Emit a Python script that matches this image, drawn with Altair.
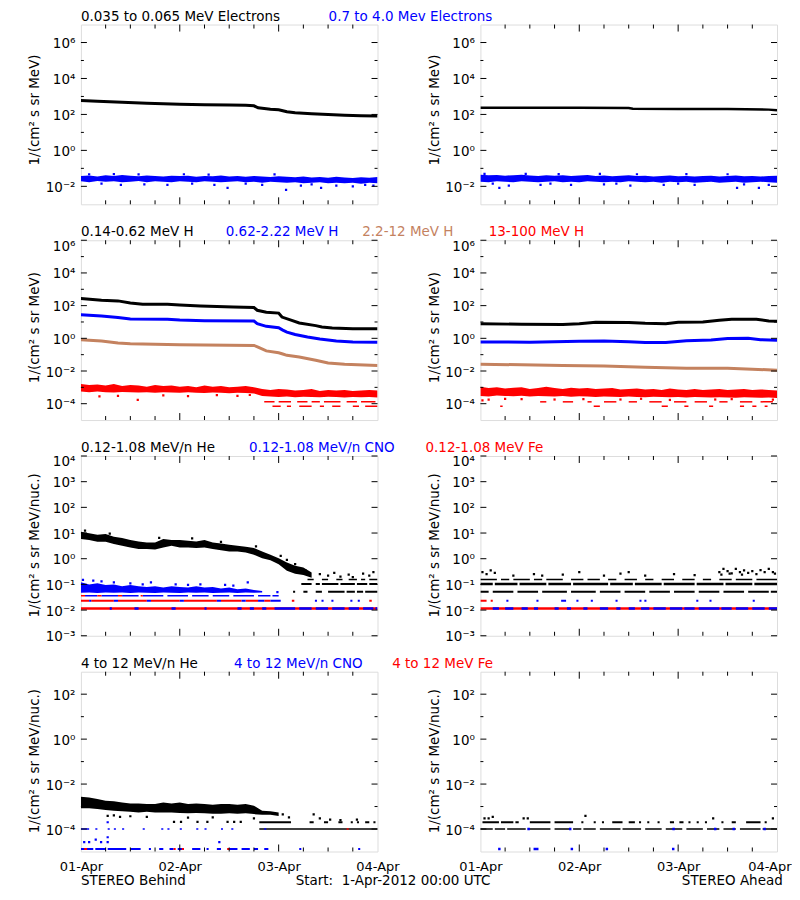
import altair as alt
import pandas as pd

FONT = "DejaVu Sans"
FS = 13.5
FSX = 13
BLACK, BLUE, RED, BROWN = "#000000", "#0000ff", "#ff0000", "#c4825f"
W, H = 297, 180

# ---------------- data: hours after 2012-04-01 00:00 UTC ----------------
DAY_HOURS = [0, 24, 48, 72]
DAY_LABELS = ["01-Apr", "02-Apr", "03-Apr", "04-Apr"]
MINOR_HOURS = [6, 12, 18, 30, 36, 42, 54, 60, 66]
G2 = list(range(0, 73, 2))

# Row 1 - electrons
E35_B_H = [0, 4, 10, 16, 24, 30, 36, 40, 42, 43, 44.5, 46, 48, 49, 50, 52, 56, 60, 64, 68, 72]
E35_B_V = [600, 540, 480, 420, 370, 350, 330, 320, 300, 235, 215, 195, 180, 160, 140, 125, 110, 98, 90, 85, 82]
E35_A_H = [0, 12, 24, 36, 37, 48, 60, 70, 72]
E35_A_V = [235, 235, 232, 228, 205, 200, 198, 185, 170]
E7_B_TOP = [0.037, 0.040, 0.035, 0.041, 0.038, 0.043, 0.039, 0.036, 0.040, 0.038, 0.035, 0.039, 0.037,
            0.039, 0.034, 0.038, 0.036, 0.040, 0.035, 0.037, 0.034, 0.038, 0.035, 0.033, 0.036, 0.034,
            0.032, 0.035, 0.031, 0.033, 0.030, 0.034, 0.031, 0.029, 0.032, 0.030, 0.033]
E7_B_BOT = [0.019, 0.017, 0.020, 0.018, 0.019, 0.017, 0.018, 0.020, 0.017, 0.019, 0.018, 0.017, 0.019,
            0.018, 0.017, 0.019, 0.018, 0.017, 0.018, 0.019, 0.017, 0.018, 0.016, 0.018, 0.017, 0.016,
            0.017, 0.015, 0.016, 0.017, 0.015, 0.016, 0.015, 0.016, 0.014, 0.016, 0.015]
E7_B_OUT = [(9.7, 0.012), (15.4, 0.013), (21, 0.012), (32.4, 0.012), (35.6, 0.0083), (44, 0.012),
            (49.8, 0.0063), (53.4, 0.011), (58.3, 0.0083), (62, 0.011), (66, 0.010), (71, 0.011),
            (2, 0.047), (8, 0.048), (14, 0.046), (25, 0.047), (31, 0.045), (47, 0.046), (5, 0.014),
            (27, 0.014), (40, 0.014), (56, 0.013), (69, 0.012)]
E7_A_TOP = [0.044, 0.041, 0.043, 0.039, 0.042, 0.044, 0.040, 0.038, 0.042, 0.039, 0.041, 0.037, 0.040,
            0.043, 0.038, 0.040, 0.036, 0.039, 0.041, 0.037, 0.039, 0.035, 0.038, 0.040, 0.036, 0.038,
            0.035, 0.037, 0.039, 0.035, 0.037, 0.040, 0.036, 0.038, 0.035, 0.037, 0.039]
E7_A_BOT = [0.018, 0.017, 0.019, 0.018, 0.017, 0.019, 0.018, 0.017, 0.018, 0.019, 0.017, 0.018, 0.017,
            0.019, 0.018, 0.017, 0.018, 0.017, 0.019, 0.018, 0.017, 0.018, 0.016, 0.018, 0.017, 0.018,
            0.016, 0.017, 0.018, 0.016, 0.017, 0.018, 0.016, 0.017, 0.018, 0.017, 0.016]
E7_A_OUT = [(4.6, 0.0083), (6.9, 0.011), (14.6, 0.012), (22, 0.012), (30, 0.013), (36.4, 0.011),
            (44.5, 0.012), (52, 0.012), (62.3, 0.0083), (67.6, 0.0083), (70, 0.012),
            (1, 0.05), (11, 0.049), (19, 0.048), (29, 0.05), (38, 0.047), (50, 0.048), (60, 0.047),
            (3, 0.014), (17, 0.014), (33, 0.014), (48, 0.014), (64, 0.013)]

# Row 2 - protons
H014_B_H = [0, 5, 9, 12, 15, 21, 24, 29, 37, 42, 42.8, 45, 48, 48.8, 51, 53, 57, 58.5, 61, 66, 72]
H014_B_V = [270, 215, 195, 145, 120, 120, 110, 95, 83, 76, 52, 39, 35, 20, 13, 8.7, 6, 5, 4.3, 3.9, 3.8]
H062_B_H = [0, 5, 9, 12, 21, 24, 30, 42, 42.8, 45, 48, 49, 50, 52, 55, 58, 62, 66, 72]
H062_B_V = [28, 23, 19, 15, 14.5, 13, 12, 11.5, 8, 5.4, 4.5, 3.2, 2.4, 1.7, 1.2, 0.9, 0.69, 0.6, 0.57]
H22_B_H = [0, 5, 9, 12, 24, 42, 43, 45, 48, 49, 50, 53, 57, 60, 64, 72]
H22_B_V = [0.83, 0.69, 0.52, 0.47, 0.41, 0.37, 0.29, 0.17, 0.13, 0.11, 0.091, 0.072, 0.045, 0.031, 0.026, 0.022]
H13_B_TOP = [1.6e-3, 1.4e-3, 1.5e-3, 1.3e-3, 1.6e-3, 1.2e-3, 1.4e-3, 1.3e-3, 1.1e-3, 1.4e-3, 1.2e-3,
             1.3e-3, 1.1e-3, 1.2e-3, 1.0e-3, 1.3e-3, 1.1e-3, 1.2e-3, 1.0e-3, 1.1e-3, 1.2e-3, 1.0e-3,
             8e-4, 7e-4, 8e-4, 7.5e-4, 6.5e-4, 7e-4, 8e-4, 6e-4, 7e-4, 6.5e-4, 7e-4, 6e-4, 6.5e-4, 7e-4, 6.5e-4]
H13_B_BOT = [5.5e-4, 5e-4, 5.5e-4, 5e-4, 4.8e-4, 5.2e-4, 5e-4, 4.8e-4, 5e-4, 4.6e-4, 5e-4, 4.8e-4,
             4.6e-4, 5e-4, 4.7e-4, 4.5e-4, 4.8e-4, 4.6e-4, 4.4e-4, 4.6e-4, 4.5e-4, 4.2e-4, 3e-4, 2.8e-4,
             2.6e-4, 2.8e-4, 2.5e-4, 2.7e-4, 2.6e-4, 2.5e-4, 2.7e-4, 2.6e-4, 2.4e-4, 2.6e-4, 2.5e-4, 2.6e-4, 2.4e-4]
H13_B_SEG_A = [(44.5, 47), (48, 51), (52.5, 55), (56, 58), (59, 63), (64.5, 67), (68, 71.5)]
H13_B_SEG_B = [(46.5, 48.5), (50, 51), (53, 56), (58, 59), (61, 63), (66, 67.5), (69, 72)]
H13_B_OUT = [(4.5, 2.8e-4), (9, 3e-4), (13.8, 1.7e-4), (20, 3.2e-4), (26, 2.9e-4), (33, 3.3e-4),
             (38, 3e-4), (41, 3.4e-4)]
H014_A_H = [0, 10, 20, 24, 28, 36, 40, 45, 48, 54, 58, 61, 67, 70, 72]
H014_A_V = [7.9, 7.2, 7.0, 7.9, 9.5, 9.3, 8.3, 7.9, 9.5, 10, 12.6, 14.5, 14.5, 11.5, 11]
H062_A_H = [0, 12, 24, 30, 36, 40, 45, 50, 56, 60, 65, 68, 72]
H062_A_V = [0.6, 0.58, 0.66, 0.68, 0.62, 0.56, 0.56, 0.7, 0.78, 0.98, 1.0, 0.82, 0.75]
H22_A_H = [0, 10, 20, 30, 40, 45, 50, 60, 66, 72]
H22_A_V = [0.026, 0.024, 0.022, 0.02, 0.017, 0.016, 0.015, 0.0145, 0.013, 0.011]
H13_A_TOP = [1.1e-3, 9e-4, 1e-3, 8.5e-4, 9.5e-4, 1e-3, 8e-4, 9e-4, 1.1e-3, 9e-4, 8e-4, 9.5e-4, 8.5e-4,
             9e-4, 8e-4, 8.5e-4, 9e-4, 7.5e-4, 8e-4, 8.5e-4, 7.5e-4, 8e-4, 7e-4, 8.5e-4, 7.5e-4, 7e-4,
             8e-4, 7e-4, 7.5e-4, 8e-4, 7e-4, 7.5e-4, 8e-4, 7e-4, 7.5e-4, 7e-4, 6.5e-4]
H13_A_BOT = [3e-4, 2.8e-4, 3.2e-4, 3e-4, 2.9e-4, 3.1e-4, 2.8e-4, 3e-4, 2.9e-4, 2.8e-4, 3e-4, 2.7e-4,
             2.9e-4, 2.8e-4, 2.6e-4, 2.8e-4, 2.7e-4, 2.6e-4, 2.8e-4, 2.6e-4, 2.5e-4, 2.7e-4, 2.6e-4,
             2.5e-4, 2.6e-4, 2.4e-4, 2.6e-4, 2.5e-4, 2.4e-4, 2.5e-4, 2.4e-4, 2.3e-4, 2.5e-4, 2.4e-4,
             2.3e-4, 2.4e-4, 2.2e-4]
H13_A_SEG_A = [(14.5, 16), (20, 22.5), (26, 27), (30, 33), (36, 38), (41, 44), (47, 50), (52, 55),
               (58, 60), (63, 66), (68, 71)]
H13_A_SEG_B = [(4.8, 5.4), (27.5, 29), (44, 45.5), (49.5, 50.5), (55.5, 56.5), (63, 64), (66, 67), (69, 69.7)]
H13_A_OUT = [(0.5, 1.6e-4), (2, 1.8e-4), (6, 2e-4), (10, 1.9e-4), (18, 1.8e-4), (25, 1.9e-4),
             (34, 1.8e-4), (39, 2e-4), (46, 1.7e-4), (57, 1.8e-4), (61, 1.9e-4), (71, 1.8e-4)]

# Row 3 - 0.12-1.08 MeV/n heavy ions
HE_B_H = list(range(0, 57, 2))
HE_B_TOP = [11.3, 9.7, 8.6, 9.1, 7.2, 6.4, 5.3, 4.7, 4.3, 4.3, 5.8, 5.3, 5.3, 5.0, 4.7, 5.3, 4.3, 3.9,
            3.5, 3.2, 2.9, 2.6, 1.9, 1.42, 1.05, 0.71, 0.53, 0.45, 0.29]
HE_B_BOT = [5.9, 5.3, 4.6, 4.6, 3.7, 3.2, 2.75, 2.37, 2.37, 2.3, 2.75, 3.2, 2.75, 2.75, 2.6, 2.75, 2.37,
            2.16, 1.92, 1.92, 1.76, 1.42, 1.05, 0.88, 0.61, 0.34, 0.26, 0.23, 0.18]
HE_B_OUT = [(1, 12.5), (7, 9.5), (19, 6.5), (27, 6.2), (34, 4.5), (42.5, 3), (48.5, 1.3), (50, 0.9),
            (52, 0.62), (54.5, 0.35), (58, 0.25), (60, 0.22), (61.5, 0.28), (63, 0.2), (65, 0.24),
            (66, 0.19), (68.5, 0.26), (70, 0.22), (71, 0.3)]
HE_B_L155 = [(55, 56.5), (58.5, 60), (62, 63.5), (65, 67), (68, 69), (70, 72)]
HE_B_L104 = [(53.5, 56), (57, 58), (58.5, 62.5), (63, 66.5), (67, 69.5), (70, 72)]
HE_B_L052 = [(51.5, 52), (54, 55), (57, 58.5), (60, 64), (64.5, 66.5), (67, 68.5), (69, 72)]
CNO_B_H = list(range(0, 45, 2))
CNO_B_TOP = [0.12, 0.10, 0.11, 0.095, 0.10, 0.085, 0.095, 0.085, 0.08, 0.085, 0.075, 0.085, 0.08, 0.075,
             0.085, 0.075, 0.08, 0.07, 0.075, 0.065, 0.07, 0.06, 0.055]
CNO_B_BOT = [0.047, 0.048, 0.046, 0.048, 0.047, 0.048, 0.046, 0.048, 0.047, 0.046, 0.048, 0.047,
             0.046, 0.048, 0.047, 0.048, 0.046, 0.047, 0.048, 0.046, 0.048, 0.047, 0.048]
CNO_B_OUT = [(0.5, 0.15), (3, 0.14), (8, 0.12), (12, 0.11), (17, 0.12), (23, 0.1), (29, 0.1),
             (35, 0.095), (40.5, 0.12), (47.7, 0.05), (5, 0.13), (15, 0.1), (26, 0.095), (37, 0.09)]
CNO_B_L036 = [(1, 4), (5, 9), (10, 14), (15, 20), (21, 26), (27, 31), (32, 36), (37, 42), (43, 46), (46.5, 48)]
FE_B_L036 = [(0, 1), (4, 5), (9, 10), (14.5, 15)]
FE_B_L023 = [(0, 2), (2.5, 8), (9, 16), (17, 24), (25, 33), (34, 39), (40, 43), (44.5, 46),
             (51.2, 51.8), (70, 70.6)]
CNO_B_L023 = [(2, 2.5), (8, 9), (16, 17), (24, 25), (33, 34), (39, 40), (43, 44.5), (46, 48.5),
              (56.8, 57.3), (58.4, 58.9), (60.8, 61.3), (65.4, 65.9), (67.2, 67.7)]
FE_B_L012 = [(0, 72)]
CNO_B_L012 = [(7, 7.5), (13, 14), (22, 23), (30, 30.5), (38, 39), (41, 42), (44, 45), (47, 52),
              (53, 56), (57, 60), (61, 64), (65, 67.5), (68.5, 71), (71.5, 72)]
HE_A_L104 = [(0, 3), (3.5, 9), (9.5, 16), (16.5, 22), (22.5, 31), (31.5, 37), (37.5, 44), (44.5, 52),
             (52.5, 59), (59.5, 66), (66.5, 72)]
HE_A_L052 = [(0, 2), (3, 8), (9, 14), (15, 21), (22, 28), (29, 34), (35, 40), (41, 46), (47, 52),
             (53, 58), (59, 64), (65, 70), (70.5, 72)]
HE_A_L155 = [(0, 4), (5, 7), (8, 12), (13, 15), (16, 20), (22, 25), (26, 29), (31, 33), (35, 38),
             (40, 42), (44, 47), (49, 52), (54, 56), (58, 61), (62, 66), (67, 72)]
HE_A_OUT = [(0.5, 0.3), (1.5, 0.25), (2.5, 0.35), (3.5, 0.28), (8, 0.22), (13, 0.25), (15, 0.22),
            (20, 0.24), (24, 0.3), (30, 0.22), (34, 0.26), (36, 0.3), (40, 0.22), (47, 0.25),
            (52, 0.23), (58, 0.3), (58.5, 0.24), (59, 0.4), (60, 0.33), (60.5, 0.26), (61, 0.27),
            (62, 0.4), (63, 0.3), (63.5, 0.24), (64, 0.35), (65, 0.28), (66, 0.33), (67, 0.25),
            (68, 0.36), (69, 0.3), (70, 0.4), (71, 0.3), (71.5, 0.26)]
CNO_A_L023 = [(6.3, 6.8), (13.6, 14.1), (19.6, 20.8), (23.3, 23.8), (26.8, 27.3), (32.8, 33.3),
              (38.6, 39.1), (39.8, 40.3), (52.4, 52.9), (55.6, 56.1), (66.1, 66.6)]
FE_A_L023 = [(0, 1.5), (2.5, 3)]
FE_A_L012 = [(0, 72)]
CNO_A_L012 = [(3, 4.5), (6, 8), (10, 11.5), (13, 14), (18, 19), (21, 22), (25, 26), (29, 31), (33, 34),
              (36, 37.5), (39, 41), (42, 45), (46, 49), (49.5, 52), (53, 58), (58.5, 61), (62, 65),
              (66, 69), (70, 72)]

# Row 4 - 4 to 12 MeV/n heavy ions
HE4_B_H = list(range(0, 49, 2))
HE4_B_TOP = [2.74e-3, 2.55e-3, 2.15e-3, 1.82e-3, 1.7e-3, 1.53e-3, 1.38e-3, 1.38e-3, 1.29e-3, 1.29e-3,
             1.53e-3, 1.38e-3, 1.53e-3, 1.29e-3, 1.38e-3, 1.29e-3, 1.2e-3, 1.29e-3, 1.29e-3, 1.2e-3,
             1.29e-3, 1.09e-3, 6.5e-4, 6.1e-4, 5.5e-4]
HE4_B_BOT = [8.3e-4, 8.3e-4, 7.7e-4, 7e-4, 6.5e-4, 6.1e-4, 5.8e-4, 5.5e-4, 5.8e-4, 5.5e-4, 5.5e-4,
             5.5e-4, 5.2e-4, 5e-4, 5.2e-4, 5e-4, 4.8e-4, 4.8e-4, 5e-4, 4.8e-4, 5e-4, 4.6e-4, 4.3e-4,
             4.3e-4, 3.8e-4]
HE4_B_OUT = [(6.5, 3.8e-4), (8, 4e-4), (9.5, 3.5e-4), (12, 3.7e-4), (16, 3.5e-4), (22.6, 2.1e-4),
             (24.3, 2.1e-4), (26, 3.2e-4), (28.3, 2.1e-4), (30.7, 2.1e-4), (32, 3.3e-4), (35.6, 2.1e-4),
             (37.2, 2.1e-4), (38.8, 2.1e-4), (42, 3e-4), (49, 4.5e-4), (50.5, 3.3e-4), (56.5, 4.5e-4),
             (58, 3e-4), (60.5, 2.6e-4), (63, 2.5e-4), (67, 2.6e-4)]
HE4_B_L2 = [(43.3, 51), (55.5, 56.5), (59, 60), (62.5, 63.5), (65.5, 66), (67, 67.5), (69, 70), (71, 71.5)]
HE4_B_L1 = [(43.3, 72)]
CNO4_B_L1 = [(0, 2), (3.5, 4), (6.5, 7), (8, 8.5), (10, 10.5), (15, 15.5), (19.5, 20), (21, 21.5),
             (24, 24.5), (28, 28.5), (30, 30.5), (34, 34.5), (36.5, 37), (44.5, 45)]
CNO4_B_L013 = [(0, 3), (3.5, 6), (6.5, 11), (12, 14.5), (16.5, 17), (19, 20), (21.5, 22.5), (23.5, 25),
               (27, 29), (30.5, 31), (33, 34), (36, 38), (39, 41), (42, 43), (44.5, 45.5), (53, 53.5),
               (67.3, 67.8)]
CNO4_B_OUT = [(0.8, 2.6e-5), (2, 2.6e-5), (3.6, 3.4e-5), (4.9, 2.6e-5), (6.5, 2.6e-5), (6.5, 4.3e-5),
              (33.6, 2.6e-5), (6.5, 2e-4)]
FE4_B_L013 = [(0.8, 1.5), (22.5, 23), (24.5, 25), (35.5, 36)]
FE4_B_L1 = [(64.5, 65)]
HE4_A_L1 = [(0, 3), (3.5, 6), (6.5, 11), (11.5, 17), (18, 22), (22.5, 24.5), (25, 28), (29, 34),
            (34.5, 39), (40, 44), (45, 49), (50, 54), (55, 58), (59, 62), (63, 68), (68.5, 72)]
HE4_A_L2 = [(0.5, 4.5), (5, 8), (8.5, 9.3), (12, 17), (18, 22.5), (24.5, 25), (27.5, 28), (29.5, 30),
            (32, 34.5), (36, 37.5), (38.5, 39), (40.5, 41), (43, 43.5), (46, 47), (48.3, 49.3),
            (50.5, 51), (52.5, 53), (54.5, 55), (58.5, 59), (61, 62), (64.5, 68), (69, 69.5)]
HE4_A_OUT = [(1, 3e-4), (2, 3e-4), (3, 3.5e-4), (10.5, 3e-4), (11.5, 3e-4), (25.5, 3.8e-4),
             (56.5, 3e-4), (71, 3e-4)]
CNO4_A_OUT = [(4.6, 1.3e-5), (13.2, 1.3e-5), (13.8, 1.3e-5), (22.2, 1.3e-5), (30.7, 1.3e-5),
              (46.8, 1.3e-5), (11.7, 1e-4), (21.8, 1e-4), (46.9, 1e-4), (57, 1e-4), (61.5, 1e-4), (69, 1e-4)]

# ---------------- text ----------------
TITLE_E = "1/(cm² s sr MeV)"
TITLE_N = "1/(cm² s sr MeV/nuc.)"
ROW1_TXT = [(0, "0.035 to 0.065 MeV Electrons", BLACK), (248, "0.7 to 4.0 Mev Electrons", BLUE)]
ROW2_TXT = [(0, "0.14-0.62 MeV H", BLACK), (145, "0.62-2.22 MeV H", BLUE),
            (281.7, "2.2-12 MeV H", BROWN), (408.3, "13-100 MeV H", RED)]
ROW3_TXT = [(0, "0.12-1.08 MeV/n He", BLACK), (168.3, "0.12-1.08 MeV/n CNO", BLUE),
            (345, "0.12-1.08 MeV Fe", RED)]
ROW4_TXT = [(0, "4 to 12 MeV/n He", BLACK), (153.3, "4 to 12 MeV/n CNO", BLUE),
            (311.7, "4 to 12 MeV Fe", RED)]
FOOT_L = [(0, "STEREO Behind", BLACK), (215, "Start:\u00a0\u00a01-Apr-2012 00:00 UTC", BLACK)]
FOOT_R = [(201.7, "STEREO Ahead", BLACK)]
TITLE_Y = -4
FOOT_Y = H + 34

SUP = {"-": "⁻", "0": "⁰", "1": "¹", "2": "²", "3": "³", "4": "⁴", "5": "⁵", "6": "⁶", "7": "⁷", "8": "⁸", "9": "⁹"}
ONE = pd.DataFrame({"a": [0]})


def sup(e):
    return "10" + "".join(SUP[c] for c in str(e))


def y_axis(dom, major, title, ty):
    expr = "".join(f"abs(log(datum.value)/LN10 - ({e})) < 0.01 ? '{sup(e)}' : " for e in major) + "''"
    return alt.Axis(values=[10.0 ** e for e in major], labelExpr=expr, ticks=False, domain=False,
                    grid=False, labelFont=FONT, labelFontSize=FS, labelColor="black", labelPadding=6,
                    labelOverlap=False, labelFlush=False, labelBaseline="middle",
                    labelOffset=alt.condition(f"datum.value > {dom[1] * 0.999}", alt.value(6), alt.value(1)),
                    title=title, titleFont=FONT, titleFontSize=FS, titleFontWeight="normal",
                    titleColor="black", titleAngle=270, titleX=-46, titleY=ty,
                    titleAlign="center", titleBaseline="middle")


DAY_EXPR = "".join(f"datum.value == {h} ? '{l}' : " for h, l in zip(DAY_HOURS, DAY_LABELS)) + "''"


def x_axis(last_inside=False):
    kw = dict(values=DAY_HOURS, labelExpr=DAY_EXPR, ticks=False, domain=False, grid=False,
              labelFont=FONT, labelFontSize=FSX, labelColor="black", labelPadding=9,
              labelFlush=False, labelOverlap=False, title=None)
    if last_inside:
        # keep the page from overflowing: the last label hugs the right page edge
        kw["labelAlign"] = alt.condition("datum.value == 72", alt.value("right"), alt.value("center"))
        kw["labelOffset"] = alt.condition("datum.value == 72", alt.value(14), alt.value(0))
    return alt.Axis(**kw)


def pts(lst):
    return pd.DataFrame({"h": [p[0] for p in lst], "v": [p[1] for p in lst]})


def segs(lst, level):
    return pd.DataFrame({"h": [s[0] for s in lst], "h2": [s[1] for s in lst], "v": [level] * len(lst)})


def panel(dom, major, minor, title, ty, lines=(), bands=(), levels=(), dots=(), texts=(),
          xaxis=None, anchor=False):
    X = alt.X("h:Q", scale=alt.Scale(domain=[0, 72], nice=False, zero=False), axis=xaxis)
    Y = alt.Y("v:Q", scale=alt.Scale(type="log", domain=dom, nice=False), axis=y_axis(dom, major, title, ty))
    layers = []
    for hs, lo, hi, col, op in bands:
        df = pd.DataFrame({"h": hs, "v": lo, "v2": hi})
        layers.append(alt.Chart(df).mark_area(color=col, opacity=op, clip=True)
                      .encode(x=X, y=Y, y2="v2"))
    for hs, vs, col, sw in lines:
        df = pd.DataFrame({"h": hs, "v": vs})
        layers.append(alt.Chart(df).mark_line(color=col, strokeWidth=sw, clip=True).encode(x=X, y=Y))
    for lst, level, col, sw in levels:
        layers.append(alt.Chart(segs(lst, level)).mark_rule(color=col, strokeWidth=sw, clip=True)
                      .encode(x=X, x2="h2", y=Y))
    for lst, col, size in dots:
        layers.append(alt.Chart(pts(lst)).mark_square(color=col, size=size, opacity=1, clip=True)
                      .encode(x=X, y=Y))
    # inward ticks on all four sides
    maj = pd.DataFrame({"v": [10.0 ** e for e in major]})
    layers.append(alt.Chart(maj).mark_rule(color="black", strokeWidth=1).encode(y=Y, x=alt.value(0), x2=alt.value(6)))
    layers.append(alt.Chart(maj).mark_rule(color="black", strokeWidth=1).encode(y=Y, x=alt.value(W - 6), x2=alt.value(W)))
    if minor:
        mnr = pd.DataFrame({"v": [10.0 ** e for e in minor]})
        layers.append(alt.Chart(mnr).mark_rule(color="black", strokeWidth=1).encode(y=Y, x=alt.value(0), x2=alt.value(3)))
        layers.append(alt.Chart(mnr).mark_rule(color="black", strokeWidth=1).encode(y=Y, x=alt.value(W - 3), x2=alt.value(W)))
    dmaj = pd.DataFrame({"h": [24, 48]})
    dmin = pd.DataFrame({"h": MINOR_HOURS})
    layers.append(alt.Chart(dmaj).mark_rule(color="black", strokeWidth=1).encode(x=X, y=alt.value(H), y2=alt.value(H - 7)))
    layers.append(alt.Chart(dmaj).mark_rule(color="black", strokeWidth=1).encode(x=X, y=alt.value(0), y2=alt.value(7)))
    layers.append(alt.Chart(dmin).mark_rule(color="black", strokeWidth=1).encode(x=X, y=alt.value(H), y2=alt.value(H - 4)))
    layers.append(alt.Chart(dmin).mark_rule(color="black", strokeWidth=1).encode(x=X, y=alt.value(0), y2=alt.value(4)))
    for px, py, t, col in texts:
        layers.append(alt.Chart(ONE).mark_text(align="left", baseline="alphabetic", font=FONT, fontSize=FS)
                      .encode(x=alt.value(px), y=alt.value(py), text=alt.value(t), color=alt.value(col)))
    if anchor:
        # invisible left anchor so the left plot edge sits 72 px right of the page margin
        layers.append(alt.Chart(ONE).mark_text(align="left", baseline="alphabetic", font=FONT, fontSize=FS)
                      .encode(x=alt.value(-72), y=alt.value(TITLE_Y), text=alt.value("."), color=alt.value("white")))
    return alt.layer(*layers).properties(width=W, height=H)


def row_texts(lst):
    return [(px, TITLE_Y, t, c) for px, t, c in lst]


D1, M1, m1 = [1e-3, 1e7], [6, 4, 2, 0, -2], [5, 3, 1, -1]
D2, M2, m2 = [1e-5, 1e6], [6, 4, 2, 0, -2, -4], [5, 3, 1, -1, -3]
D3, M3, m3 = [1e-3, 1e4], [4, 3, 2, 1, 0, -1, -2, -3], []
D4, M4, m4 = [1e-5, 1e3], [2, 0, -2, -4], [1, -1, -3]

p1l = panel(D1, M1, m1, TITLE_E, 85,
            bands=[(G2, E7_B_BOT, E7_B_TOP, BLUE, 1)],
            lines=[(E35_B_H, E35_B_V, BLACK, 3)],
            dots=[(E7_B_OUT, BLUE, 5)],
            texts=row_texts(ROW1_TXT), anchor=True)
p1r = panel(D1, M1, m1, TITLE_E, 85,
            bands=[(G2, E7_A_BOT, E7_A_TOP, BLUE, 1)],
            lines=[(E35_A_H, E35_A_V, BLACK, 2.5)],
            dots=[(E7_A_OUT, BLUE, 5)])
p2l = panel(D2, M2, m2, TITLE_E, 87,
            bands=[(G2, H13_B_BOT, H13_B_TOP, RED, 1)],
            lines=[(H014_B_H, H014_B_V, BLACK, 3), (H062_B_H, H062_B_V, BLUE, 3), (H22_B_H, H22_B_V, BROWN, 3)],
            levels=[(H13_B_SEG_A, 1.3e-4, RED, 1.5), (H13_B_SEG_B, 7e-5, RED, 1.5)],
            dots=[(H13_B_OUT, RED, 5)],
            texts=row_texts(ROW2_TXT))
p2r = panel(D2, M2, m2, TITLE_E, 87,
            bands=[(G2, H13_A_BOT, H13_A_TOP, RED, 1)],
            lines=[(H014_A_H, H014_A_V, BLACK, 3), (H062_A_H, H062_A_V, BLUE, 3), (H22_A_H, H22_A_V, BROWN, 3)],
            levels=[(H13_A_SEG_A, 1.3e-4, RED, 1.5), (H13_A_SEG_B, 7e-5, RED, 1.5)],
            dots=[(H13_A_OUT, RED, 5)])
p3l = panel(D3, M3, m3, TITLE_N, 89,
            bands=[(HE_B_H, HE_B_BOT, HE_B_TOP, BLACK, 1), (CNO_B_H, CNO_B_BOT, CNO_B_TOP, BLUE, 1)],
            levels=[(HE_B_L155, 0.155, BLACK, 1.5), (HE_B_L104, 0.104, BLACK, 2), (HE_B_L052, 0.052, BLACK, 2),
                    (CNO_B_L036, 0.036, BLUE, 1.5), (FE_B_L036, 0.036, RED, 1.5),
                    (FE_B_L023, 0.0231, RED, 2), (CNO_B_L023, 0.0231, BLUE, 2),
                    (FE_B_L012, 0.01155, RED, 2.5), (CNO_B_L012, 0.01155, BLUE, 2.5)],
            dots=[(HE_B_OUT, BLACK, 5), (CNO_B_OUT, BLUE, 5)],
            texts=row_texts(ROW3_TXT))
p3r = panel(D3, M3, m3, TITLE_N, 89,
            levels=[(HE_A_L155, 0.155, BLACK, 1.5), (HE_A_L104, 0.104, BLACK, 2.5), (HE_A_L052, 0.052, BLACK, 2),
                    (FE_A_L023, 0.0231, RED, 2), (CNO_A_L023, 0.0231, BLUE, 2),
                    (FE_A_L012, 0.01155, RED, 2.5), (CNO_A_L012, 0.01155, BLUE, 2.5)],
            dots=[(HE_A_OUT, BLACK, 5)])
p4l = panel(D4, M4, m4, TITLE_N, 89,
            bands=[(HE4_B_H, HE4_B_BOT, HE4_B_TOP, BLACK, 1)],
            levels=[(HE4_B_L2, 2e-4, BLACK, 2), (HE4_B_L1, 1e-4, BLACK, 1.5),
                    (CNO4_B_L1, 1e-4, BLUE, 1.5), (FE4_B_L1, 1e-4, RED, 1.5),
                    (CNO4_B_L013, 1.3e-5, BLUE, 2), (FE4_B_L013, 1.3e-5, RED, 2)],
            dots=[(HE4_B_OUT, BLACK, 5), (CNO4_B_OUT, BLUE, 5)],
            texts=row_texts(ROW4_TXT) + [(px, FOOT_Y, t, c) for px, t, c in FOOT_L],
            xaxis=x_axis())
p4r = panel(D4, M4, m4, TITLE_N, 89,
            levels=[(HE4_A_L2, 2e-4, BLACK, 2), (HE4_A_L1, 1e-4, BLACK, 1.5)],
            dots=[(HE4_A_OUT, BLACK, 5), (CNO4_A_OUT, BLUE, 6)],
            texts=[(px, FOOT_Y, t, c) for px, t, c in FOOT_R],
            xaxis=x_axis(last_inside=True))

chart = alt.concat(p1l, p1r, p2l, p2r, p3l, p3r, p4l, p4r, columns=2,
                   spacing={"row": 36, "column": 103}, bounds="flush").properties(
    padding={"left": 0, "top": 0, "right": 0, "bottom": 0},
    autosize=alt.AutoSizeParams(type="pad"),
).configure_view(stroke="black", strokeWidth=1).configure(background="white", padding=0)

chart.save("out.html", embed_options={"renderer": "svg", "actions": False})
